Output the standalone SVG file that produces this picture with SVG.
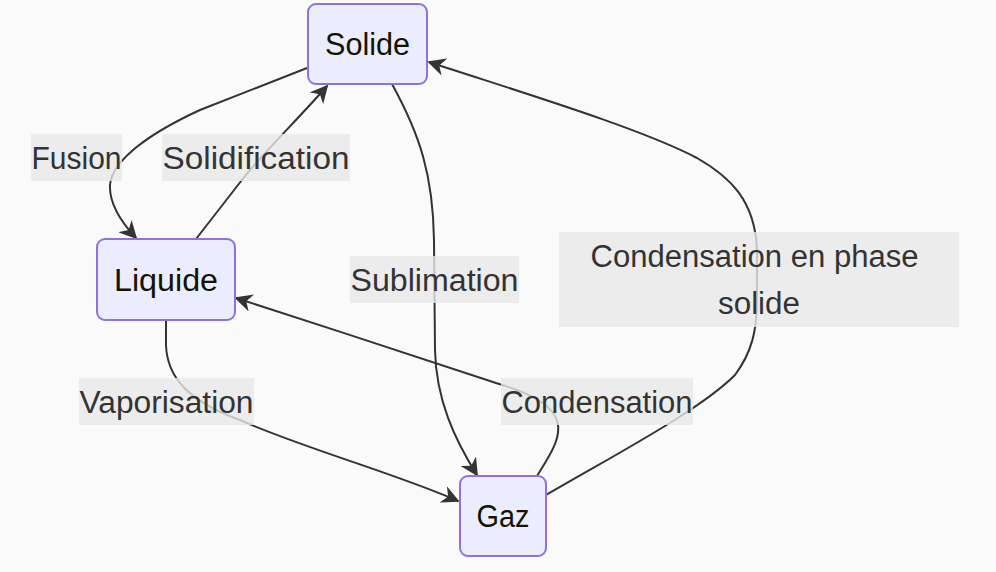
<svg xmlns="http://www.w3.org/2000/svg" width="996" height="572" viewBox="0 0 996 572">
<style>
.node rect{fill:#ECECFF;stroke:#9370DB;stroke-width:2}
.node text{font-family:"Liberation Sans",Arial,sans-serif;font-size:31px;fill:#131300;text-anchor:middle}
.edge{fill:none;stroke:#333333;stroke-width:2}
.lbl rect{fill:rgba(232,232,232,0.8)}
.lbl text{font-family:"Liberation Sans",Arial,sans-serif;font-size:31px;fill:#333333;text-anchor:middle}
</style>
<defs>
<marker id="arr" viewBox="0 0 10 10" refX="9" refY="5" markerWidth="18" markerHeight="18" markerUnits="userSpaceOnUse" orient="auto">
<path d="M0,0 L10,5 L0,10 L3,5 z" fill="#333333"/>
</marker>
</defs>
<rect width="996" height="572" fill="#FAFAFA"/>
<g id="connectors">
<path class="edge" marker-end="url(#arr)" d="M307,68 L200,110 C150,133 112,160 110,185 C109,205 123,224 136,238"/>
<path class="edge" marker-end="url(#arr)" d="M196,239 L245,176 C268,148 300,117 327,86"/>
<path class="edge" marker-end="url(#arr)" d="M392,84 C420,135 433,175 434,240 L435,350 C436,400 455,440 477,475"/>
<path class="edge" marker-end="url(#arr)" d="M546,495 C620,452 700,410 735,375 C752,352 757,330 757,300 L757,250 C755,200 730,177 697,158 C640,128 520,92 429,62"/>
<path class="edge" marker-end="url(#arr)" d="M166,320 L166,345 C167,375 185,400 240,420 C300,447 400,475 458,501"/>
<path class="edge" marker-end="url(#arr)" d="M537,476 C550,455 560,440 558,425 C555,405 530,393 496,383 C420,358 320,325 236,298"/>
</g>
<g id="labels">
<g class="lbl" id="lbl-fusion"><rect x="31" y="134" width="91" height="47"/><text x="76.5" y="169" textLength="90" lengthAdjust="spacingAndGlyphs">Fusion</text></g>
<g class="lbl" id="lbl-solidification"><rect x="162" y="134" width="188" height="47"/><text x="256" y="169" textLength="187" lengthAdjust="spacingAndGlyphs">Solidification</text></g>
<g class="lbl" id="lbl-sublimation"><rect x="350" y="256" width="169" height="47"/><text x="434.5" y="291" textLength="168" lengthAdjust="spacingAndGlyphs">Sublimation</text></g>
<g class="lbl" id="lbl-condsolide"><rect x="559" y="232" width="400" height="95"/><text x="754.5" y="267" textLength="328" lengthAdjust="spacingAndGlyphs">Condensation en phase</text><text x="759" y="314" textLength="82" lengthAdjust="spacingAndGlyphs">solide</text></g>
<g class="lbl" id="lbl-vaporisation"><rect x="79" y="378" width="175" height="47"/><text x="166.5" y="413" textLength="174" lengthAdjust="spacingAndGlyphs">Vaporisation</text></g>
<g class="lbl" id="lbl-condensation"><rect x="501" y="378" width="192" height="47"/><text x="597" y="413" textLength="191" lengthAdjust="spacingAndGlyphs">Condensation</text></g>
</g>
<g class="node" id="solide"><rect x="308" y="4" width="119" height="80" rx="8"/><text x="367.5" y="55" textLength="85" lengthAdjust="spacingAndGlyphs">Solide</text></g>
<g class="node" id="liquide"><rect x="97" y="239" width="138" height="81" rx="8"/><text x="166" y="291" textLength="104" lengthAdjust="spacingAndGlyphs">Liquide</text></g>
<g class="node" id="gaz"><rect x="460" y="476" width="86" height="80" rx="8"/><text x="503" y="527" textLength="53" lengthAdjust="spacingAndGlyphs">Gaz</text></g>
</svg>
